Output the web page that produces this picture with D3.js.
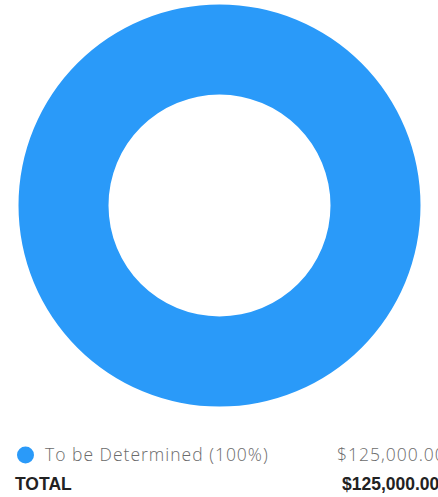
<!DOCTYPE html>
<html>
<head>
<meta charset="utf-8">
<script src="https://cdn.jsdelivr.net/npm/d3@7"></script>
<style>
  html, body { margin: 0; padding: 0; background: #fff; overflow: hidden; }
  svg { display: block; }
</style>
</head>
<body>
<svg id="chart" width="438" height="497"></svg>
<script>
// Budget allocation by category
const categories = ["To be Determined"];
const amounts = [125000];
const colors = ["#2a9af9"];
const totalLabel = "TOTAL";

const svg = d3.select("#chart");
const cx = 219.5, cy = 205.5, outerR = 201, innerR = 111;

const total = d3.sum(amounts);
const fmtMoney = v => "$" + d3.format(",.2f")(v);
const fmtPct = d3.format(".0%");

const color = d3.scaleOrdinal().domain(categories).range(colors);
const pie = d3.pie().sort(null).value(d => d.amount);
const arc = d3.arc().innerRadius(innerR).outerRadius(outerR);

const data = categories.map((c, i) => ({ category: c, amount: amounts[i] }));

svg.append("g")
  .attr("transform", `translate(${cx},${cy})`)
  .selectAll("path")
  .data(pie(data))
  .join("path")
  .attr("d", arc)
  .attr("fill", d => color(d.data.category));

// Legend rows
const legend = svg.append("g");
const rowY = d3.scaleBand().domain(categories).range([446, 446 + 30 * categories.length]);

const row = legend.selectAll("g.row")
  .data(data)
  .join("g")
  .attr("class", "row")
  .attr("transform", d => `translate(0,${rowY(d.category)})`);

row.append("circle")
  .attr("cx", 25.5).attr("cy", 9)
  .attr("r", 8.5)
  .attr("fill", d => color(d.category));

const legendFont = sel => sel
  .attr("font-family", "'Open Sans', sans-serif")
  .attr("font-weight", 300)
  .attr("font-size", 17.5)
  .attr("letter-spacing", 1)
  .attr("fill", "#6b6b6b");

row.append("text")
  .attr("x", 45).attr("y", 15)
  .call(legendFont)
  .text(d => `${d.category} (${fmtPct(d.amount / total)})`);

row.append("text")
  .attr("x", 337).attr("y", 15)
  .call(legendFont)
  .text(d => fmtMoney(d.amount));

// Total row
const totalY = 446 + 30 * categories.length + 14;
const totalFont = sel => sel
  .attr("font-family", "'Liberation Sans', Arial, sans-serif")
  .attr("font-weight", 700)
  .attr("font-size", 17.5)
  .attr("fill", "#222");

svg.append("text")
  .attr("x", 15).attr("y", totalY)
  .call(totalFont)
  .text(totalLabel);

svg.append("text")
  .attr("x", 342).attr("y", totalY)
  .call(totalFont)
  .text(fmtMoney(total));
</script>
</body>
</html>
